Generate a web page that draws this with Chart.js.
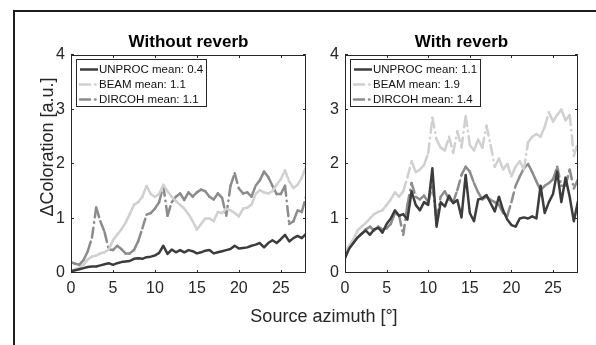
<!DOCTYPE html>
<html>
<head>
<meta charset="utf-8">
<script src="https://cdn.jsdelivr.net/npm/chart.js@4.4.1/dist/chart.umd.min.js"></script>
<style>
  html, body { margin: 0; padding: 0; background: #fff; }
  #fig { position: relative; width: 596px; height: 345px; overflow: hidden;
         font-family: 'Liberation Sans', Arial, Helvetica, sans-serif; color: #262626; }
  #frame { position: absolute; left: 13px; top: 10px; width: 700px; height: 400px;
           border-left: 2px solid #1e1e1e; border-top: 2px solid #1e1e1e; }
  canvas { position: absolute; top: 0; }
  #dry { left: 0; }
  #rev { left: 310px; }
  #xlabel { position: absolute; left: 224px; width: 200px; top: 305px; text-align: center;
            font-size: 18px; line-height: 22px; }
  #ylabel { position: absolute; left: -43px; width: 180px; top: 135.5px; height: 22px;
            line-height: 22px; text-align: center; font-size: 18px; transform: rotate(-90deg); }
</style>
</head>
<body>
<div id="fig">
  <div id="frame"></div>
  <canvas id="dry" width="320" height="345"></canvas>
  <canvas id="rev" width="286" height="345"></canvas>
  <div id="ylabel">ΔColoration [a.u.]</div>
  <div id="xlabel">Source azimuth [°]</div>
</div>
<script>
// Source azimuth in degrees (0.5° grid)
const azimuth = [0,0.5,1,1.5,2,2.5,3,3.5,4,4.5,5,5.5,6,6.5,7,7.5,8,8.5,9,9.5,10,10.5,11,11.5,12,12.5,13,13.5,
  14,14.5,15,15.5,16,16.5,17,17.5,18,18.5,19,19.5,20,20.5,21,21.5,22,22.5,23,23.5,24,24.5,25,25.5,26,26.5,27,27.5,28];

const xTicks = [0, 5, 10, 15, 20, 25];
const yTicks = [0, 1, 2, 3, 4];

const seriesNames = ['UNPROC', 'BEAM', 'DIRCOH'];
const meansDry = [0.4, 1.1, 1.1];
const meansRev = [1.1, 1.9, 1.4];

// Without reverb
const dryUnproc = [0.03,0.05,0.07,0.09,0.11,0.12,0.12,0.14,0.16,0.18,0.15,0.18,0.20,0.21,0.22,0.26,0.27,0.26,0.29,0.30,
  0.32,0.37,0.50,0.35,0.43,0.38,0.42,0.38,0.42,0.40,0.36,0.38,0.41,0.42,0.36,0.38,0.40,0.42,0.44,0.50,
  0.45,0.46,0.47,0.50,0.52,0.55,0.47,0.55,0.60,0.55,0.62,0.70,0.58,0.64,0.68,0.64,0.72];
const dryBeam = [0.05,0.06,0.10,0.15,0.25,0.30,0.32,0.36,0.38,0.43,0.60,0.70,0.80,0.92,1.08,1.25,1.30,1.40,1.60,1.45,
  1.40,1.45,1.62,1.50,1.40,1.32,1.25,1.18,1.08,0.95,0.80,0.90,1.00,1.00,0.95,1.12,1.10,1.18,1.15,1.10,
  1.04,1.18,1.20,1.25,1.45,1.52,1.48,1.46,1.50,1.62,1.72,1.88,1.68,1.56,1.62,1.75,1.95];
const dryDircoh = [0.20,0.17,0.15,0.24,0.40,0.65,1.20,0.95,0.75,0.43,0.42,0.50,0.44,0.36,0.36,0.42,0.58,0.82,1.07,1.10,
  1.18,1.30,1.60,1.05,1.30,1.40,1.46,1.34,1.48,1.40,1.48,1.53,1.50,1.40,1.35,1.46,1.38,1.05,1.60,1.83,
  1.55,1.46,1.48,1.40,1.60,1.70,1.86,1.76,1.60,1.45,1.45,1.60,0.90,0.95,1.15,1.12,1.40];

// With reverb
const revUnproc = [0.27,0.45,0.55,0.65,0.72,0.78,0.70,0.80,0.83,0.74,0.90,1.00,1.15,1.05,1.08,0.98,1.50,1.25,1.15,1.30,
  1.25,1.92,0.85,1.30,1.22,1.42,1.28,1.34,1.02,1.80,1.10,0.95,1.35,1.37,1.43,1.28,1.13,1.40,1.15,0.98,
  0.88,0.85,1.00,1.02,1.00,1.04,1.00,1.60,1.10,1.30,1.45,1.86,1.30,1.75,1.40,0.95,1.32];
const revBeam = [0.40,0.50,0.62,0.78,0.85,0.92,1.00,1.08,1.12,1.15,1.25,1.35,1.48,1.40,1.50,1.75,2.05,1.85,1.90,1.98,
  2.20,2.85,2.45,2.30,2.25,2.50,2.20,2.60,2.30,2.88,2.35,2.25,2.45,2.30,2.70,2.35,1.95,2.10,1.90,2.00,
  1.77,1.95,2.05,1.90,2.40,2.50,2.55,2.50,2.68,2.95,2.78,2.90,3.00,2.80,2.90,2.15,2.40];
const revDircoh = [0.35,0.45,0.55,0.65,0.72,0.80,0.85,0.78,0.85,0.80,0.82,0.90,1.10,1.05,0.70,1.25,1.65,1.40,1.35,1.42,
  1.30,1.60,0.98,1.40,1.50,1.35,1.30,1.52,1.80,1.95,1.86,1.65,1.48,1.35,1.40,1.34,1.30,1.25,1.10,1.05,
  1.30,1.60,1.77,1.92,2.00,1.85,1.68,1.52,1.60,1.65,1.72,1.95,1.60,1.60,1.90,1.55,1.72];

const FONT = "'Liberation Sans', Arial, Helvetica, sans-serif";
const INK = '#262626';
const lineColors = ['#3c3c3c', '#d0d0d0', '#8c8c8c'];
const DASH_DOT = [10, 5, 0.5, 5];

// Axes box with inward-pointing tick marks
const axesFrame = {
  id: 'axesFrame',
  afterDatasetsDraw(chart) {
    const { ctx, chartArea: a } = chart;
    const xs = chart.scales.x, ys = chart.scales.y;
    const t = 3;
    ctx.save();
    ctx.strokeStyle = INK;
    ctx.lineWidth = 1;
    ctx.beginPath();
    ctx.rect(a.left + 0.5, a.top + 0.5, a.right - a.left - 1, a.bottom - a.top - 1);
    xTicks.forEach(v => {
      const px = Math.round(xs.getPixelForValue(v)) + 0.5;
      ctx.moveTo(px, a.bottom); ctx.lineTo(px, a.bottom - t);
      ctx.moveTo(px, a.top); ctx.lineTo(px, a.top + t);
    });
    yTicks.forEach(v => {
      const py = Math.round(ys.getPixelForValue(v)) - 0.5;
      ctx.moveTo(a.left, py); ctx.lineTo(a.left + t, py);
      ctx.moveTo(a.right, py); ctx.lineTo(a.right - t, py);
    });
    ctx.stroke();
    ctx.restore();
  }
};

// Boxed legend in the upper-left corner of the axes
const boxLegend = {
  id: 'boxLegend',
  afterDraw(chart) {
    const { ctx, chartArea: a } = chart;
    const sets = chart.data.datasets;
    const x0 = a.left + 5, y0 = a.top + 4;
    ctx.save();
    ctx.font = `11.5px ${FONT}`;
    const tw = Math.max(...sets.map(d => ctx.measureText(d.label).width));
    const w = Math.round(23 + tw + 3), h = 47;
    ctx.fillStyle = '#fff';
    ctx.fillRect(x0, y0, w, h);
    ctx.strokeStyle = INK;
    ctx.lineWidth = 1;
    ctx.strokeRect(x0 + 0.5, y0 + 0.5, w, h);
    sets.forEach((d, i) => {
      const yy = y0 + 10.5 + i * 15;
      ctx.beginPath();
      ctx.strokeStyle = d.borderColor;
      ctx.lineWidth = d.borderWidth;
      ctx.lineCap = d.borderCapStyle || 'butt';
      ctx.setLineDash(d.borderDash || []);
      ctx.moveTo(x0 + 4, yy);
      ctx.lineTo(x0 + 22, yy);
      ctx.stroke();
      ctx.setLineDash([]);
      ctx.fillStyle = '#111';
      ctx.textAlign = 'left';
      ctx.textBaseline = 'middle';
      ctx.fillText(d.label, x0 + 23, yy);
    });
    ctx.restore();
  }
};

function buildDatasets(seriesList, means) {
  return seriesList.map((vals, i) => {
    const dashed = i > 0;
    return {
      label: `${seriesNames[i]} mean: ${means[i].toFixed(1)}`,
      data: vals.map((v, k) => ({ x: azimuth[k], y: v })),
      borderColor: lineColors[i],
      borderWidth: 2.5,
      borderCapStyle: dashed ? 'round' : 'butt',
      borderJoinStyle: 'round',
      borderDash: dashed ? DASH_DOT : [],
      // dash pattern restarts on every segment of the dash-dot lines
      segment: dashed ? { borderDashOffset: c => (c.p0DataIndex % 2) * 0.01 } : undefined,
      pointRadius: 0,
      tension: 0,
      fill: false
    };
  });
}

function makeChart(id, titleText, seriesList, means, yAxisWidth, padRight) {
  const tickFont = { size: 16, family: FONT };
  return new Chart(document.getElementById(id), {
    type: 'line',
    data: { datasets: buildDatasets(seriesList, means) },
    options: {
      responsive: false,
      animation: false,
      events: [],
      layout: { padding: { top: 32, left: 0, right: padRight, bottom: 32 } },
      plugins: {
        legend: { display: false },
        tooltip: { enabled: false },
        title: {
          display: true,
          text: titleText,
          fullSize: false,
          color: '#000',
          font: { size: 17, weight: 'bold', family: FONT },
          padding: { top: 0, bottom: 2.6 }
        }
      },
      scales: {
        x: {
          type: 'linear', min: 0, max: 28,
          afterBuildTicks: s => { s.ticks = xTicks.map(value => ({ value })); },
          afterFit: s => { s.height = 40; },
          ticks: { font: tickFont, color: INK, padding: 6, maxRotation: 0, autoSkip: false,
                   callback: v => String(v) },
          grid: { display: false, drawTicks: false },
          border: { display: false }
        },
        y: {
          type: 'linear', min: 0, max: 4,
          afterBuildTicks: s => { s.ticks = yTicks.map(value => ({ value })); },
          afterFit: s => { s.width = yAxisWidth; },
          ticks: { font: tickFont, color: INK, padding: 6, autoSkip: false,
                   callback: v => String(v) },
          grid: { display: false, drawTicks: false },
          border: { display: false }
        }
      }
    },
    plugins: [axesFrame, boxLegend]
  });
}

makeChart('dry', 'Without reverb', [dryUnproc, dryBeam, dryDircoh], meansDry, 71, 14);
makeChart('rev', 'With reverb', [revUnproc, revBeam, revDircoh], meansRev, 35, 18);
</script>
</body>
</html>
